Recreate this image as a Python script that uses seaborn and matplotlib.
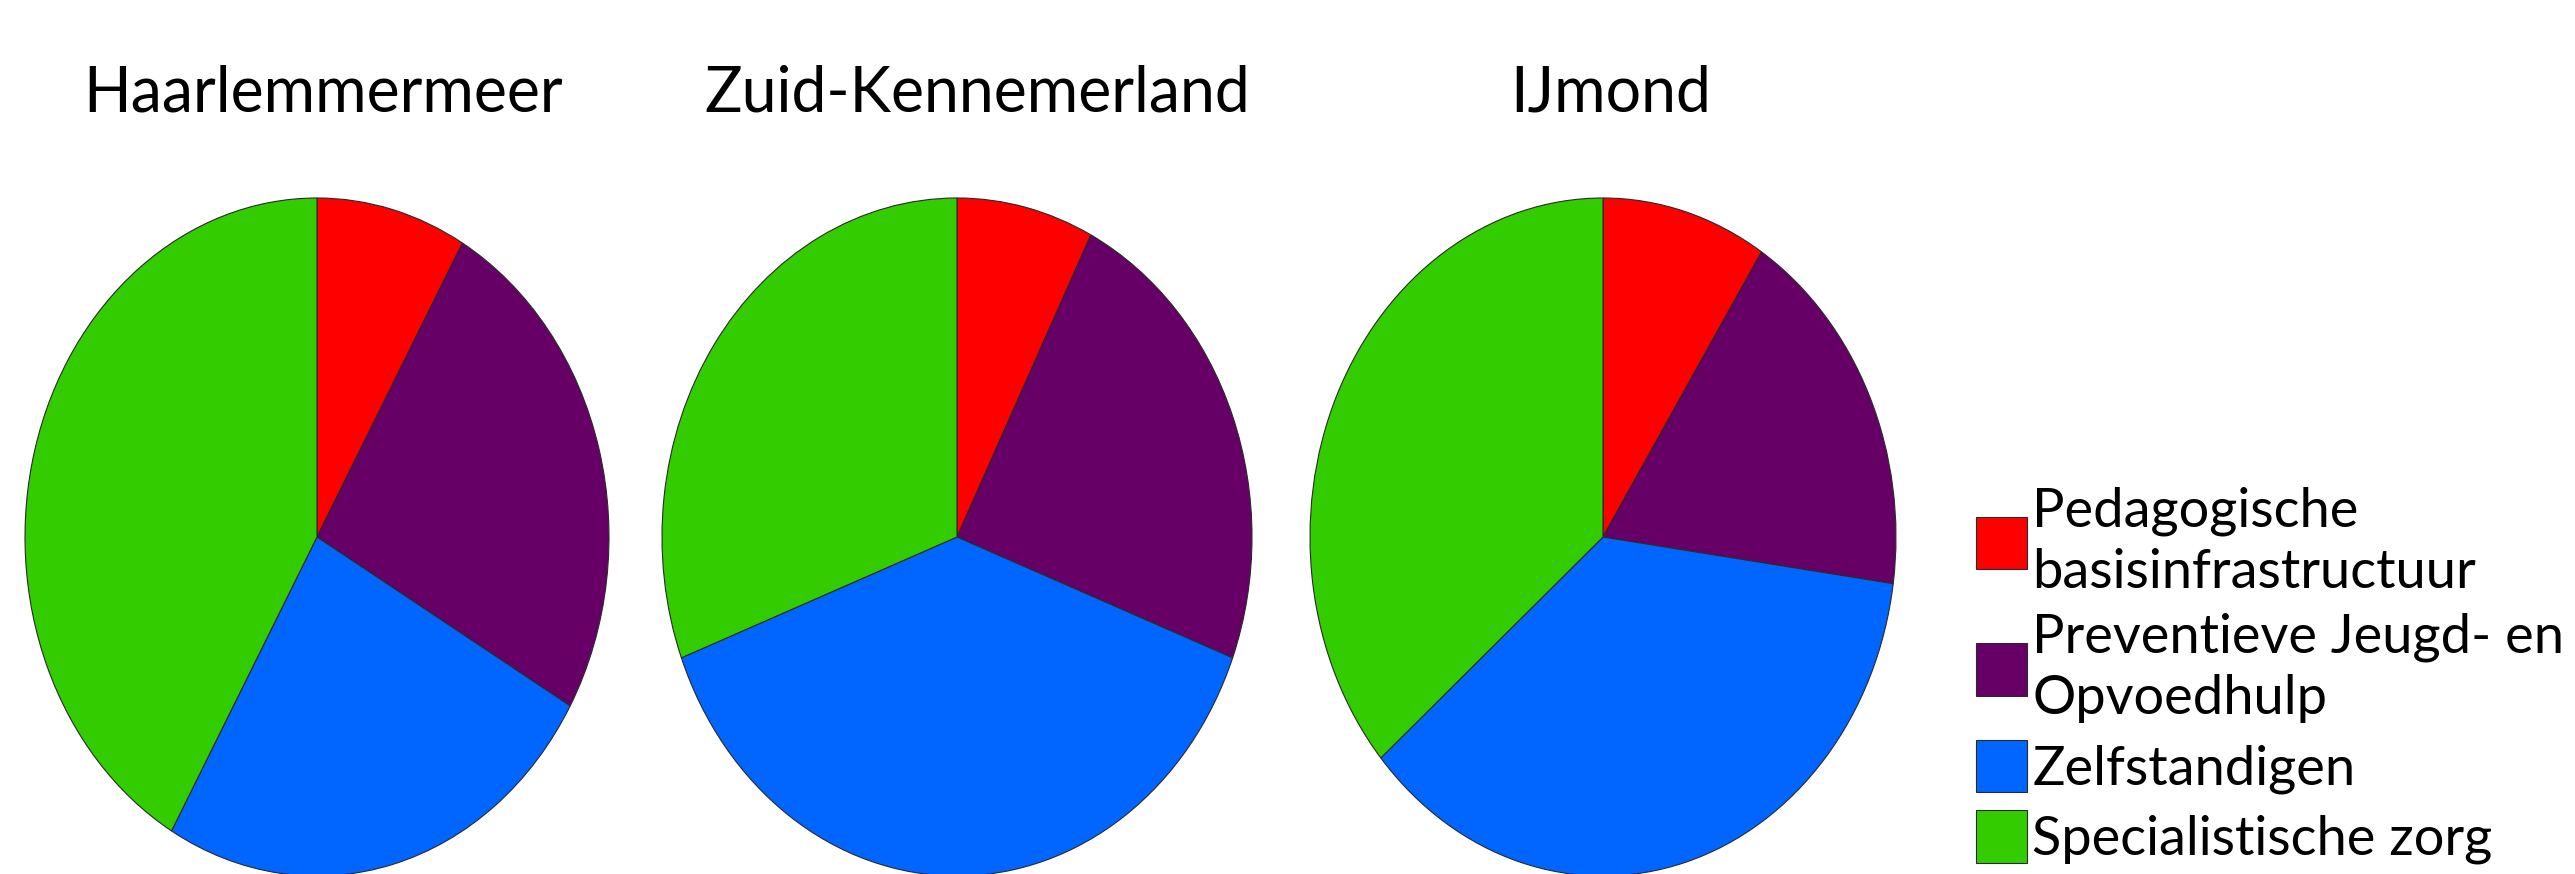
import matplotlib
matplotlib.use("Agg")
import matplotlib.pyplot as plt
import seaborn as sns

# data (percent per region)
regions = ['Haarlemmermeer', 'Zuid-Kennemerland', 'IJmond']
categories = ['Pedagogische\nbasisinfrastructuur',
              'Preventieve Jeugd- en\nOpvoedhulp',
              'Zelfstandigen',
              'Specialistische zorg']
haarlemmermeer = [8.3, 25.0, 25.0, 41.7]
zuid_kennemerland = [7.5, 23.3, 38.4, 30.8]
ijmond = [9.1, 18.1, 36.5, 36.3]
colors = ['#FF0000', '#660066', '#0066FF', '#33CC00']

sns.set_theme(style='white')
plt.rcParams['font.family'] = ['Lato', 'DejaVu Sans']

W, H = 2575, 874
fig = plt.figure(figsize=(W / 100, H / 100), dpi=100)
palette = sns.color_palette(colors)

# pie centres / radii in pixels (pies are stretched into ellipses)
centres = [317, 957, 1603]
rxs = [292, 295, 293]
cy, ry = 537, 339
title_dx = [0.01, 0.035, 0.013]

series = [haarlemmermeer, zuid_kennemerland, ijmond]
for i, (name, vals) in enumerate(zip(regions, series)):
    cx, rx = centres[i], rxs[i]
    ax = fig.add_axes([(cx - rx) / W, (H - cy - ry) / H, 2 * rx / W, 2 * ry / H])
    wedges, _ = ax.pie(vals, colors=palette, startangle=90, counterclock=False,
                       wedgeprops=dict(edgecolor='#2a2a2a', linewidth=0.8))
    ax.set_aspect('auto')
    ax.set_xlim(-1, 1)
    ax.set_ylim(-1, 1)
    ax.set_title(name, fontsize=45, pad=62, x=0.5 + title_dx[i], color='black')

leg = fig.legend(wedges, categories, loc='lower left', bbox_to_anchor=(0.757, -0.02),
                 frameon=False, fontsize=39, handlelength=0.93, handleheight=1.12,
                 handletextpad=0.1, labelspacing=0.3, borderpad=0)
for t in leg.get_texts():
    t.set_linespacing(1.3)
    t.set_color('black')

fig.savefig('out.png', dpi=100)
